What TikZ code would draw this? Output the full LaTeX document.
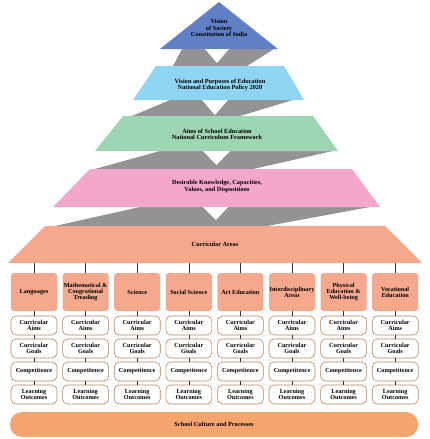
\documentclass[tikz,border=0pt]{standalone}
\usepackage{fontspec}
\setmainfont{Liberation Serif}
\definecolor{cBlue}{HTML}{5F80C4}
\definecolor{cLight}{HTML}{8FD4F2}
\definecolor{cGreen}{HTML}{9ED6B4}
\definecolor{cPink}{HTML}{F3A8CB}
\definecolor{cSalmon}{HTML}{F6A88E}
\definecolor{cBar}{HTML}{F6A46E}
\definecolor{cGray}{HTML}{939396}
\definecolor{cBorder}{HTML}{B8835C}
\begin{document}
\begin{tikzpicture}[x=1pt,y=-1pt,
  lbl/.style={font=\fontsize{6.3}{6.6}\selectfont\bfseries, align=center, inner sep=0pt},
  ribbon/.style={fill=cGray, draw=none},
  arrowtri/.style={fill=white, draw=none},
  areabox/.style={fill=cSalmon, draw=none, rounded corners=3pt, minimum width=46pt, minimum height=38pt, align=center, inner sep=0pt, font=\fontsize{6.2}{5.8}\selectfont\bfseries},
  subbox/.style={fill=white, draw=cBorder, line width=0.6pt, rounded corners=5pt, minimum width=46pt, minimum height=19pt, align=center, inner sep=0pt, font=\fontsize{6.2}{5.6}\selectfont\bfseries},
  conn/.style={draw=black!80, line width=0.6pt}]
\useasboundingbox (0,0) rectangle (430,439);
% grey ribbons
\fill[ribbon] (182,49) -- (274,49) -- (247,66) -- (173,66) -- cycle;
\fill[ribbon] (170,100) -- (293,100) -- (240,116) -- (132,116) -- cycle;
\fill[ribbon] (160,151) -- (333,151) -- (253,169) -- (95,169) -- cycle;
\fill[ribbon] (140,207) -- (370,207) -- (267,226) -- (55,226) -- cycle;
% layers
\fill[cBlue] (219,2) -- (278,49) -- (160,49) -- cycle;
\fill[cLight] (156,66) -- (284,66) -- (304,100) -- (133,100) -- cycle;
\fill[cGreen] (123,116) -- (313,116) -- (338,151) -- (95,151) -- cycle;
\fill[cPink] (90,169) -- (352,169) -- (380,207) -- (53,207) -- cycle;
\fill[cSalmon] (45,226) -- (385,226) -- (422,263) -- (8,263) -- cycle;
% white arrow triangles
\fill[arrowtri] (205,49) -- (229,49) -- (217,63) -- cycle;
\fill[arrowtri] (202,100) -- (228,100) -- (215,115) -- cycle;
\fill[arrowtri] (203,151) -- (230,151) -- (216.5,165) -- cycle;
\fill[arrowtri] (203,207) -- (228,207) -- (216,220) -- cycle;
% layer texts
\node[lbl] (vision) at (219,28) {Vision\\of Society\\Constitution of India};
\node[lbl] (nep) at (220,85) {Vision and Purposes of Education\\National Education Policy 2020};
\node[lbl] (ncf) at (217,134.5) {Aims of School Education\\National Curriculum Framework};
\node[lbl] (kcvd) at (217,186.5) {Desirable Knowledge, Capacities,\\Values, and Dispositions};
\node[lbl] (areas) at (215,244) {Curricular Areas};
\coordinate (cab) at (215,263);
% curricular area columns
\foreach \t [count=\i] in {Languages,{Mathematical \&\\Congrational\\Treading},Science,Social Science,Art Education,{Interdisciplinary\\Areas},{Physical\\Education \&\\Well-being},{Vocational\\Education}}{
  \pgfmathsetmacro\xx{34+51.6*(\i-1)}
  \node[areabox] (area\i) at (\xx,292) {\t};
  \node[subbox] (aims\i) at (\xx,325.5) {Curricular\\Aims};
  \node[subbox] (goals\i) at (\xx,348.5) {Curricular\\Goals};
  \node[subbox] (comp\i) at (\xx,371.5) {Competitence};
  \node[subbox] (lo\i) at (\xx,394.5) {Learning\\Outcomes};
  \draw[conn] (area\i.north) -- (area\i.north |- cab);
  \draw[conn] (area\i.south) -- (aims\i.north);
  \draw[conn] (aims\i.south) -- (goals\i.north);
  \draw[conn] (goals\i.south) -- (comp\i.north);
  \draw[conn] (comp\i.south) -- (lo\i.north);
}
% bottom bar
\node[fill=cBar, rounded corners=12pt, minimum width=408pt, minimum height=25pt, inner sep=0pt, font=\fontsize{6.3}{6.6}\selectfont\bfseries] (culture) at (214,424.5) {School Culture and Processes};
\end{tikzpicture}
\end{document}
